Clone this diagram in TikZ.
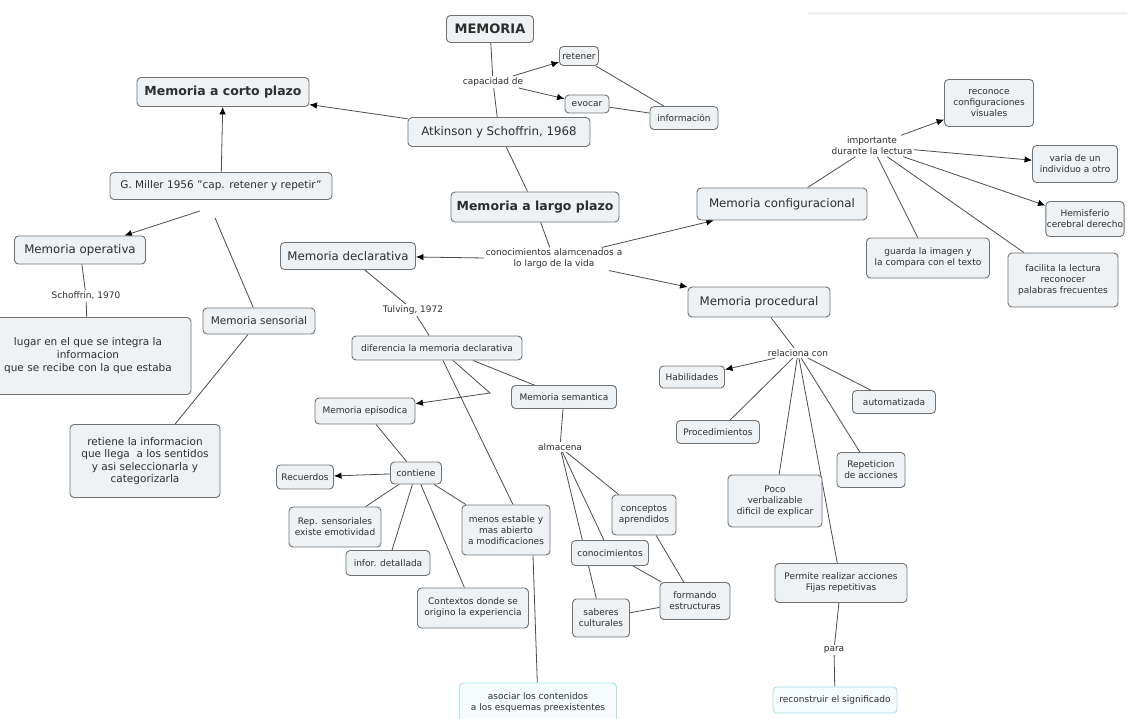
\documentclass[tikz,border=0pt]{standalone}
\usepackage{fontspec}
\setmainfont{DejaVu Sans}
\usepackage{xcolor}
\usetikzlibrary{arrows.meta,calc,backgrounds}

\definecolor{boxfill}{HTML}{EEF2F4}
\definecolor{boxline}{HTML}{6F7376}
\definecolor{linkgray}{HTML}{4C4C4C}
\definecolor{txtgray}{HTML}{2E2E2E}
\definecolor{goalline}{HTML}{A3E2EA}
\definecolor{goalfill}{HTML}{F6FCFD}

\begin{document}
\begin{tikzpicture}[x=1pt,y=-1pt,
  box/.style={draw=boxline,line width=0.9pt,rounded corners=4pt,fill=boxfill,inner sep=3pt,align=center,text=txtgray},
  sz/.style 2 args={minimum width=#1pt,minimum height=#2pt},
  head/.style={box,font=\fontsize{12.5}{15}\selectfont\bfseries},
  mid/.style={box,font=\fontsize{11.8}{14}\selectfont},
  txt/.style={box,font=\fontsize{10.5}{13}\selectfont},
  sm/.style={box,font=\fontsize{9}{11}\selectfont},
  goal/.style={sm,draw=goalline,fill=goalfill},
  lbl/.style={inner sep=1.5pt,align=center,font=\fontsize{9}{11}\selectfont,text=txtgray},
  link/.style={draw=linkgray,line width=0.8pt},
  arr/.style={link,-{Latex[length=7.5pt,width=6.5pt,color=black]}}]
\useasboundingbox (0,0) rectangle (1127,719);

% top of the map
\node[head,sz={87}{27},font=\fontsize{13}{15}\selectfont\bfseries] (mem) at (490,29) {MEMORIA};
\node[lbl] (cap) at (493,82) {capacidad de};
\node[sm,sz={38}{19}] (ret) at (579,56) {retener};
\node[sm,sz={44}{18}] (evo) at (587,104) {evocar};
\node[sm,sz={68}{23}] (inf) at (684,118) {información};
\node[mid,sz={182}{29}] (atk) at (499,132) {Atkinson y Schoffrin, 1968};
\node[head,sz={172}{29}] (corto) at (223,92) {Memoria a corto plazo};
\node[head,sz={168}{30}] (largo) at (535,207) {Memoria a largo plazo};

% corto plazo side
\node[txt,sz={222}{27}] (miller) at (221,186) {G. Miller 1956 "cap. retener y repetir"};
\node[mid,sz={131}{28}] (oper) at (80,250) {Memoria operativa};
\node[lbl] (schof) at (86,296) {Schoffrin, 1970};
\node[txt,sz={206}{77}] (lugar) at (88,356) {lugar en el que se integra la\\informacion\\que se recibe con la que estaba};
\node[txt,sz={112}{26}] (sens) at (259,321) {Memoria sensorial};
\node[txt,sz={150}{73},font=\fontsize{10.5}{12.5}\selectfont] (retiene) at (145,461) {retiene la informacion\\que llega\ \ a los sentidos\\y asi seleccionarla y\\categorizarla};

% largo plazo
\node[lbl] (conlbl) at (554,259) {conocimientos alamcenados a\\lo largo de la vida};
\node[mid,sz={135}{27}] (decl) at (348,256) {Memoria declarativa};
\node[mid,sz={170}{32}] (conf) at (782,204) {Memoria configuracional};
\node[mid,sz={142}{30}] (proc) at (759,302) {Memoria procedural};

% configuracional
\node[lbl] (imp) at (872,146) {importante\\durante la lectura};
\node[sm,sz={89}{47}] (recon) at (989,103) {reconoce\\configuraciones\\visuales};
\node[sm,sz={85}{37}] (varia) at (1075,164) {varia de un\\individuo a otro};
\node[sm,sz={78}{35},inner sep=1pt] (hemis) at (1085,219) {Hemisferio\\cerebral derecho};
\node[sm,sz={123}{40}] (guarda) at (928,258) {guarda la imagen y\\la compara con el texto};
\node[sm,sz={110}{54}] (facil) at (1063,280) {facilita la lectura\\reconocer\\palabras frecuentes};

% declarativa
\node[lbl] (tulv) at (413,310) {Tulving, 1972};
\node[sm,sz={170}{24}] (dif) at (437,348) {diferencia la memoria declarativa};
\node[sm,sz={105}{23}] (sem) at (564,397) {Memoria semantica};
\node[sm,sz={100}{26}] (epi) at (365,411) {Memoria episodica};
\node[lbl] (alm) at (560,447) {almacena};
\node[sm,sz={51}{22}] (cont) at (416,473) {contiene};
\node[sm,sz={57}{24}] (recu) at (305,477) {Recuerdos};
\node[sm,sz={92}{40}] (rep) at (335,527) {Rep. sensoriales\\existe emotividad};
\node[sm,sz={84}{25}] (detal) at (388,563) {infor. detallada};
\node[sm,sz={111}{40}] (ctx) at (473,608) {Contextos donde se\\origino la experiencia};
\node[sm,sz={88}{50}] (menos) at (506,530) {menos estable y\\mas abierto\\a modificaciones};
\node[sm,sz={64}{40}] (concep) at (644,515) {conceptos\\aprendidos};
\node[sm,sz={77}{25}] (conoc) at (610,553) {conocimientos};
\node[sm,sz={70}{37}] (form) at (695,601) {formando\\estructuras};
\node[sm,sz={57}{38}] (saber) at (601,618) {saberes\\culturales};
\node[goal,sz={157}{40}] (asoc) at (538,703) {asociar los contenidos\\a los esquemas preexistentes};

% procedural
\node[lbl] (relac) at (798,353) {relaciona con};
\node[sm,sz={65}{22}] (habil) at (692,377) {Habilidades};
\node[sm,sz={83}{23}] (auto) at (894,402) {automatizada};
\node[sm,sz={83}{23}] (procs) at (718,432) {Procedimientos};
\node[sm,sz={68}{35}] (repet) at (871,470) {Repeticion\\de acciones};
\node[sm,sz={94}{52}] (poco) at (775,501) {Poco\\verbalizable\\dificil de explicar};
\node[sm,sz={132}{39}] (perm) at (841,583) {Permite realizar acciones\\Fijas repetitivas};
\node[lbl] (para) at (834,650) {para};
\node[goal,sz={124}{26}] (recons) at (835,700) {reconstruir el significado};

\coordinate (bend) at (490,393);

\begin{scope}[on background layer]
\fill[white] (0,0) rectangle (1127,719);
\draw[gray!10,line width=3pt] (808,14) -- (1127,14);
\draw[link] (mem) -- (cap);
\draw[arr] (cap) -- (ret);
\draw[arr] (cap) -- (evo);
\draw[link] (ret) -- (inf);
\draw[link] (evo) -- (inf);
\draw[link] (cap) -- (atk);
\draw[arr] (atk) -- (corto);
\draw[link] (atk) -- (largo);
\draw[arr] (miller) -- (corto);
\draw[arr] ($(miller.south)+(-21,11)$) -- (oper);
\draw[link] ($(miller.south)+(-6,18)$) -- (sens);
\draw[link] (oper) -- (schof);
\draw[link] (schof) -- (lugar);
\draw[link] (sens) -- (retiene);
\draw[link] (largo) -- (conlbl);
\draw[arr] (conlbl) -- (decl);
\draw[arr] (conlbl) -- (conf);
\draw[arr] (conlbl) -- (proc);
\draw[link] (conf) -- (imp);
\draw[arr] (imp) -- (recon);
\draw[arr] (imp) -- (varia);
\draw[arr] (imp) -- (hemis);
\draw[link] (imp) -- (guarda);
\draw[link] (imp) -- (facil);
\draw[link] (decl) -- (tulv);
\draw[link] (tulv) -- (dif);
\draw[arr] ([xshift=16pt]dif.south) -- (bend) -- (epi);
\draw[link] ([xshift=36pt]dif.south) -- (sem);
\draw[link] ([xshift=6pt]dif.south) -- ([xshift=7pt]menos.north);
\draw[link] (epi) -- (cont);
\draw[arr] (cont) -- (recu);
\draw[link] (cont) -- (rep);
\draw[link] (cont) -- (detal);
\draw[link] (cont) -- (ctx);
\draw[link] (cont) -- (menos);
\draw[link] ([xshift=27pt]menos.south) -- (asoc);
\draw[link] (sem) -- (alm);
\draw[link] (alm) -- (concep);
\draw[link] (alm) -- (conoc);
\draw[link] (alm) -- (saber);
\draw[link] (concep) -- (form);
\draw[link] (conoc) -- (form);
\draw[link] (saber) -- (form);
\draw[link] (proc) -- (relac);
\draw[arr] (relac) -- (habil);
\draw[link] (relac) -- (procs);
\draw[link] (relac) -- (poco);
\draw[link] (relac) -- (perm);
\draw[link] (relac) -- (repet);
\draw[link] (relac) -- (auto);
\draw[link] (perm) -- (para);
\draw[link] (para) -- (recons);
\end{scope}
\end{tikzpicture}
\end{document}
